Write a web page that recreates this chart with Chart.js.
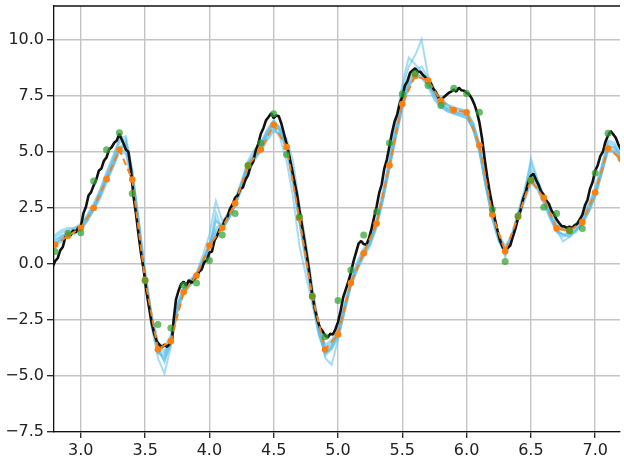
<!DOCTYPE html>
<html>
<head>
<meta charset="utf-8">
<script src="https://cdn.jsdelivr.net/npm/chart.js@4.4.1/dist/chart.umd.min.js"></script>
<style>
  html, body { margin: 0; padding: 0; background: #fff; overflow: hidden; }
  canvas { display: block; }
</style>
</head>
<body>
<canvas id="chart" width="624" height="461"></canvas>
<script>
// Axis ticks
const xTicks = [3.0, 3.5, 4.0, 4.5, 5.0, 5.5, 6.0, 6.5, 7.0];
const yTicks = [-7.5, -5.0, -2.5, 0.0, 2.5, 5.0, 7.5, 10.0];

// Grid of evaluation points shared by the estimate and the observations
const gridX = [2.7, 2.8, 2.9, 3.0, 3.1, 3.2, 3.3, 3.4, 3.5, 3.6,
               3.7, 3.8, 3.9, 4.0, 4.1, 4.2, 4.3, 4.4, 4.5, 4.6,
               4.7, 4.8, 4.9, 5.0, 5.1, 5.2, 5.3, 5.4, 5.5, 5.6,
               5.7, 5.8, 5.9, 6.0, 6.1, 6.2, 6.3, 6.4, 6.5, 6.6,
               6.7, 6.8, 6.9, 7.0, 7.1, 7.2, 7.3];

// Mean estimate (orange dashed line with markers)
const estimate = [0.5, 0.85, 1.25, 1.6, 2.49, 3.77, 5.09, 3.76, -0.71, -3.82,
                  -3.45, -1.26, -0.52, 0.82, 1.61, 2.69, 4.38, 5.1, 6.2, 5.21,
                  2.03, -1.45, -3.82, -3.15, -0.86, 0.47, 1.8, 4.39, 7.13, 8.39,
                  8.17, 7.28, 6.86, 6.76, 5.28, 2.2, 0.56, 2.1, 3.73, 2.94,
                  1.58, 1.48, 1.86, 3.18, 5.14, 4.7, 3.6];

// Noisy observations (green dots)
const observed = [null, 0.55, 1.36, 1.39, 3.7, 5.09, 5.85, 3.14, -0.75, -2.71,
                  -2.86, -0.96, -0.86, 0.15, 1.29, 2.25, 4.39, 5.39, 6.69, 4.88,
                  2.1, -1.45, -3.25, -1.64, -0.27, 1.29, 2.32, 5.39, 7.58, 8.49,
                  7.95, 7.06, 7.83, 7.6, 6.76, 2.42, 0.1, 2.13, 3.73, 2.52,
                  2.25, 1.48, 1.58, 4.05, 5.83, null, null];

// Underlying signal (black line), [x, y]
const signal = [
  [2.78,-0.15],[2.80,0.12],[2.82,0.25],[2.84,0.6],[2.86,0.75],[2.88,1.2],[2.90,1.35],[2.92,1.25],
  [2.94,1.5],[2.96,1.4],[2.98,1.62],[3.00,1.65],[3.02,2.25],[3.04,2.55],[3.06,3.05],[3.08,3.2],
  [3.10,3.5],[3.12,3.75],[3.14,4.15],[3.16,4.25],[3.18,4.6],[3.20,4.75],[3.22,5.1],[3.24,5.2],
  [3.26,5.4],[3.28,5.5],[3.30,5.8],[3.31,5.65],[3.33,5.4],[3.35,5.1],[3.37,5.0],[3.39,4.2],
  [3.41,3.0],[3.43,2.2],[3.45,1.25],[3.47,0.4],[3.49,-0.3],[3.51,-1.2],[3.53,-1.9],[3.55,-2.6],
  [3.57,-3.1],[3.59,-3.45],[3.61,-3.6],[3.63,-3.72],[3.65,-3.6],[3.67,-3.7],[3.69,-3.58],[3.71,-3.35],
  [3.72,-2.6],[3.74,-1.6],[3.76,-1.2],[3.78,-0.9],[3.80,-0.8],[3.82,-0.98],[3.84,-0.72],[3.86,-0.85],
  [3.88,-0.68],[3.90,-0.6],[3.92,-0.35],[3.94,-0.25],[3.96,0.08],[3.98,0.15],[4.00,0.5],[4.02,0.55],
  [4.04,1.05],[4.06,1.25],[4.08,1.55],[4.10,1.65],[4.12,1.95],[4.14,2.1],[4.16,2.45],[4.18,2.65],
  [4.20,2.95],[4.22,3.05],[4.24,3.35],[4.26,3.4],[4.28,3.75],[4.30,3.95],[4.32,4.35],[4.34,4.55],
  [4.36,5.05],[4.38,5.35],[4.40,5.8],[4.42,6.05],[4.44,6.4],[4.46,6.55],[4.48,6.72],[4.50,6.5],
  [4.52,6.62],[4.54,6.58],[4.56,6.25],[4.58,5.8],[4.60,5.35],[4.62,4.85],[4.64,4.3],[4.66,3.7],
  [4.68,3.15],[4.70,2.4],[4.72,1.7],[4.74,1.0],[4.76,0.3],[4.78,-0.5],[4.80,-1.4],[4.82,-2.0],
  [4.84,-2.5],[4.86,-2.85],[4.88,-3.0],[4.90,-3.2],[4.92,-3.28],[4.94,-3.12],[4.96,-3.15],[4.98,-2.92],
  [5.00,-2.6],[5.02,-2.1],[5.04,-1.5],[5.06,-1.15],[5.08,-0.8],[5.10,-0.4],[5.12,0.1],[5.14,0.5],
  [5.16,0.9],[5.18,1.02],[5.20,0.88],[5.22,0.85],[5.24,1.12],[5.26,1.55],[5.28,2.05],[5.30,2.55],
  [5.32,3.15],[5.34,3.55],[5.36,4.25],[5.38,4.65],[5.40,5.25],[5.42,5.85],[5.44,6.35],[5.46,6.65],
  [5.48,7.15],[5.50,7.45],[5.52,7.95],[5.54,8.15],[5.56,8.52],[5.58,8.62],[5.60,8.72],[5.62,8.58],
  [5.64,8.57],[5.66,8.42],[5.68,8.32],[5.70,8.18],[5.72,8.07],[5.74,7.82],[5.76,7.67],[5.78,7.42],
  [5.80,7.3],[5.82,7.42],[5.84,7.52],[5.86,7.62],[5.88,7.68],[5.90,7.77],[5.92,7.68],[5.94,7.86],
  [5.96,7.74],[5.98,7.72],[6.00,7.63],[6.02,7.56],[6.04,7.38],[6.06,7.12],[6.08,6.78],[6.10,6.3],
  [6.12,5.6],[6.14,4.7],[6.16,3.9],[6.18,3.2],[6.20,2.6],[6.22,2.0],[6.24,1.5],[6.26,1.05],
  [6.28,0.75],[6.30,0.6],[6.32,0.72],[6.34,0.82],[6.36,1.22],[6.38,1.58],[6.40,2.05],[6.42,2.4],
  [6.44,2.9],[6.46,3.2],[6.48,3.65],[6.50,3.92],[6.52,4.02],[6.54,3.75],[6.56,3.52],[6.58,3.22],
  [6.60,3.08],[6.62,2.82],[6.64,2.68],[6.66,2.38],[6.68,2.22],[6.70,1.98],[6.72,1.82],[6.74,1.68],
  [6.76,1.67],[6.78,1.6],[6.80,1.66],[6.82,1.58],[6.84,1.72],[6.86,1.78],[6.88,1.98],[6.90,2.18],
  [6.92,2.6],[6.94,2.85],[6.96,3.35],[6.98,3.65],[7.00,4.15],[7.02,4.4],[7.04,4.8],[7.06,5.0],
  [7.08,5.45],[7.10,5.72],[7.12,5.92],[7.14,5.78],[7.16,5.62],[7.18,5.33],[7.20,5.1],[7.22,4.8]
];

// x positions of the sampled curves (light blue)
const sampleX = [2.75,2.80,2.85,2.90,2.95,3.00,3.05,3.10,3.15,3.20,
                 3.25,3.30,3.35,3.40,3.45,3.50,3.55,3.60,3.65,3.70,
                 3.75,3.80,3.85,3.90,3.95,4.00,4.05,4.10,4.15,4.20,
                 4.25,4.30,4.35,4.40,4.45,4.50,4.55,4.60,4.65,4.70,
                 4.75,4.80,4.85,4.90,4.95,5.00,5.05,5.10,5.15,5.20,
                 5.25,5.30,5.35,5.40,5.45,5.50,5.55,5.60,5.65,5.70,
                 5.75,5.80,5.85,5.90,5.95,6.00,6.05,6.10,6.15,6.20,
                 6.25,6.30,6.35,6.40,6.45,6.50,6.55,6.60,6.65,6.70,
                 6.75,6.80,6.85,6.90,6.95,7.00,7.05,7.10,7.15,7.20,7.25];

const sample1 = [0.6,0.9,1.15,1.3,1.45,1.6,2.0,2.5,3.1,3.8,4.5,5.2,5.2,3.8,1.7,-0.6,-2.5,-3.8,-4.0,-3.4,-2.0,-1.2,-0.85,-0.5,0.1,0.8,1.3,1.6,2.1,2.7,3.5,4.4,4.8,5.2,5.8,6.2,5.9,5.2,3.8,2.0,0.3,-1.4,-2.9,-3.8,-3.6,-3.1,-2.0,-0.9,-0.1,0.5,1.0,1.8,3.0,4.4,5.8,7.1,8.0,8.4,8.4,8.1,7.6,7.25,7.0,6.85,6.8,6.7,6.2,5.2,3.6,2.2,1.2,0.6,1.1,2.1,3.0,3.8,3.5,2.9,2.2,1.6,1.5,1.45,1.6,1.9,2.5,3.2,4.2,5.2,5.1,4.7,4.2];
const sample2 = [0.8,1.0,1.3,1.2,1.5,1.7,2.1,2.6,3.0,3.9,4.6,5.4,5.5,4.0,1.9,-0.4,-2.3,-3.6,-3.9,-3.3,-1.8,-1.0,-0.8,-0.4,0.2,0.9,1.5,1.7,2.2,2.8,3.6,4.5,4.9,5.4,6.0,6.4,6.0,5.3,3.9,2.1,0.4,-1.3,-2.8,-3.7,-3.5,-3.0,-1.9,-0.8,0.0,0.6,1.1,1.9,3.1,4.6,6.2,7.8,8.8,9.3,10.0,8.4,7.8,7.4,7.1,6.9,6.9,6.8,6.3,5.4,3.8,2.4,1.3,0.7,1.2,2.2,3.2,4.2,3.6,3.0,2.3,1.7,1.6,1.5,1.7,2.0,2.6,3.3,4.3,5.4,5.3,4.8,4.3];
const sample3 = [0.9,1.2,1.4,1.5,1.6,1.7,2.2,2.7,3.3,4.1,4.8,5.6,5.7,4.2,2.0,-0.3,-2.2,-3.5,-3.7,-3.2,-1.9,-1.1,-0.7,-0.4,0.4,1.3,2.8,1.9,2.3,2.9,3.7,4.6,5.1,5.4,5.9,6.3,6.1,5.4,4.0,2.2,0.5,-1.2,-2.7,-3.6,-3.4,-2.9,-1.8,-0.7,0.1,0.7,1.2,2.0,3.3,4.7,6.4,8.0,9.2,8.9,8.6,8.2,7.7,7.3,7.1,7.0,6.9,6.8,6.3,5.3,3.7,2.3,1.3,0.8,1.3,2.3,3.3,4.5,3.7,3.1,2.4,1.8,1.6,1.6,1.8,2.1,2.7,3.4,4.4,5.5,5.4,4.9,4.4];
const sample4 = [0.5,0.8,1.0,1.2,1.4,1.5,1.9,2.4,3.0,3.7,4.3,5.0,5.1,3.7,1.5,-0.8,-2.8,-4.2,-4.9,-3.7,-2.2,-1.3,-0.9,-0.6,0.0,0.7,2.3,1.5,2.0,2.6,3.4,4.3,4.7,5.1,5.6,6.0,5.8,5.1,3.7,1.9,0.2,-1.5,-3.0,-4.1,-3.8,-3.2,-2.1,-1.0,-0.2,0.4,0.9,1.7,2.9,4.3,5.7,7.0,7.9,8.3,8.3,8.0,7.5,7.1,6.9,6.8,6.7,6.6,6.1,5.1,3.5,2.1,1.1,0.4,1.0,2.0,2.9,3.7,3.4,2.8,2.1,1.5,1.3,1.2,1.5,1.8,2.4,3.1,4.1,5.1,5.0,4.6,4.1];
const sample5 = [0.7,1.1,1.2,1.4,1.3,1.6,2.0,2.4,3.2,3.9,4.4,5.1,5.3,4.1,1.8,-0.5,-2.6,-3.9,-4.3,-3.6,-2.1,-1.2,-0.9,-0.5,0.2,0.8,1.9,1.7,2.1,2.6,3.4,4.2,4.6,5.0,5.5,5.9,5.8,5.6,4.6,2.6,1.0,-1.0,-2.7,-4.2,-4.5,-3.4,-2.2,-1.0,-0.3,0.3,0.8,1.6,2.8,4.2,5.6,6.9,7.9,8.5,8.5,8.2,7.4,7.0,6.8,6.7,6.6,6.5,6.1,5.0,3.4,2.0,1.0,0.5,1.0,1.9,2.8,3.6,3.3,2.7,2.0,1.4,1.2,1.3,1.4,1.8,2.3,3.0,4.0,5.0,5.0,4.6,4.1];
const sample6 = [1.0,1.3,1.5,1.6,1.6,1.8,2.1,2.6,3.3,4.0,4.7,5.5,5.6,3.9,1.6,-0.7,-2.6,-3.9,-4.2,-3.5,-2.0,-1.3,-1.0,-0.6,0.1,0.8,1.4,1.6,2.0,2.6,3.3,4.3,4.7,5.1,5.7,6.1,5.6,4.6,3.0,0.8,-0.5,-1.8,-3.1,-3.9,-3.7,-3.1,-2.0,-0.9,-0.1,0.5,1.0,1.8,3.0,4.4,5.9,7.2,8.2,8.6,8.8,8.3,7.7,7.2,6.9,6.7,6.7,6.6,6.0,5.0,3.5,2.1,1.1,0.5,1.1,2.1,3.0,3.9,3.6,2.9,2.1,1.5,1.3,1.4,1.5,1.9,2.4,3.2,4.2,5.2,5.2,4.8,4.3];
const sample7 = [0.6,0.9,1.1,1.3,1.5,1.6,2.0,2.5,3.1,3.8,4.5,5.2,5.4,4.1,1.9,-0.5,-2.4,-3.7,-4.4,-3.5,-2.0,-1.1,-0.8,-0.5,0.1,0.9,1.6,1.8,2.2,2.8,3.6,4.5,4.9,5.3,5.8,6.3,6.0,5.3,3.9,2.1,0.3,-1.4,-3.0,-4.0,-3.7,-3.1,-1.9,-0.8,-0.1,0.5,1.0,1.8,3.1,4.5,5.9,7.3,8.3,8.7,8.5,8.1,7.5,7.1,6.9,6.8,6.7,6.6,6.2,5.2,3.6,2.2,1.2,0.3,1.1,2.2,3.1,4.7,3.8,3.0,2.2,1.5,1.0,1.2,1.5,1.8,2.4,3.1,4.1,5.3,5.2,4.8,4.3];
const sample8 = [0.4,0.8,1.2,1.4,1.5,1.5,1.9,2.4,2.9,3.6,4.3,5.0,4.9,3.5,1.4,-0.9,-2.7,-4.0,-4.1,-3.3,-1.9,-1.2,-0.9,-0.5,0.0,0.7,2.0,1.5,2.0,2.7,3.5,4.4,4.8,5.2,5.9,6.4,5.9,5.1,3.6,1.8,0.1,-1.6,-3.2,-4.0,-3.8,-3.3,-2.1,-0.9,-0.2,0.4,0.9,1.7,2.9,4.3,5.7,7.0,8.1,8.5,8.3,7.9,7.3,7.0,6.8,6.7,6.6,6.5,6.0,5.0,3.4,2.0,1.0,0.6,1.2,2.2,3.1,4.0,3.5,2.8,2.1,1.5,1.3,1.3,1.5,1.8,2.3,3.0,4.0,5.1,5.0,4.5,4.0];
const samples = [sample1, sample2, sample3, sample4, sample5, sample6, sample7, sample8];

const pairUp = (xs, ys) => xs.map((x, i) => ({ x: x, y: ys[i] })).filter(p => p.y !== null && p.y !== undefined);
const fmt = v => v.toFixed(1).replace('-', '\u2212');

const labelFont = { family: 'DejaVu Sans', size: 16 };
const gridStyle = { color: '#c4c4c4', lineWidth: 1.4, tickColor: '#222', tickWidth: 1.3 };

// Top frame line of the axes box
const topFrame = {
  id: 'topFrame',
  afterDatasetsDraw(chart) {
    const { ctx, chartArea } = chart;
    ctx.save();
    ctx.strokeStyle = '#111';
    ctx.lineWidth = 1.3;
    ctx.beginPath();
    ctx.moveTo(chartArea.left, chartArea.top);
    ctx.lineTo(chartArea.right, chartArea.top);
    ctx.stroke();
    ctx.restore();
  }
};

const datasets = [];
samples.forEach(s => datasets.push({
  data: pairUp(sampleX, s),
  showLine: true,
  borderColor: 'rgba(90,192,235,0.55)',
  borderWidth: 2,
  pointRadius: 0,
  order: 3
}));
datasets.push({
  data: signal.map(p => ({ x: p[0], y: p[1] })),
  showLine: true,
  borderColor: '#111',
  borderWidth: 2.6,
  borderJoinStyle: 'bevel',
  pointRadius: 0,
  order: 2
});
datasets.push({
  data: pairUp(gridX, estimate),
  showLine: true,
  borderColor: '#ff7f0e',
  borderWidth: 2,
  borderDash: [7, 4],
  pointRadius: 3.3,
  pointBackgroundColor: '#ff7f0e',
  pointBorderWidth: 0,
  order: 1
});
datasets.push({
  data: pairUp(gridX, observed),
  showLine: false,
  pointRadius: 3.5,
  pointBackgroundColor: 'rgba(44,160,44,0.7)',
  pointBorderWidth: 0,
  order: 0
});

new Chart(document.getElementById('chart'), {
  type: 'scatter',
  data: { datasets: datasets },
  plugins: [topFrame],
  options: {
    responsive: false,
    animation: false,
    events: [],
    devicePixelRatio: 1,
    layout: { padding: { top: 6, left: 0, right: 0, bottom: 0 } },
    plugins: { legend: { display: false }, tooltip: { enabled: false } },
    elements: { line: { tension: 0 } },
    scales: {
      x: {
        type: 'linear',
        min: 2.7915,
        max: 7.193,
        afterBuildTicks: s => { s.ticks = xTicks.map(v => ({ value: v })); },
        afterFit: s => { s.height = 29; s.paddingLeft = 0; s.paddingRight = 0; },
        ticks: { callback: v => fmt(v), font: labelFont, color: '#222', padding: 3, autoSkip: false, maxRotation: 0 },
        grid: Object.assign({ tickLength: 6 }, gridStyle),
        border: { display: true, color: '#111', width: 1.3 }
      },
      y: {
        type: 'linear',
        min: -7.5,
        max: 11.5,
        afterBuildTicks: s => { s.ticks = yTicks.map(v => ({ value: v })); },
        afterFit: s => { s.width = 54; s.paddingTop = 0; s.paddingBottom = 0; },
        ticks: { callback: v => fmt(v), font: labelFont, color: '#222', padding: 3 },
        grid: Object.assign({ tickLength: 7 }, gridStyle),
        border: { display: true, color: '#111', width: 1.3 }
      }
    }
  }
});
</script>
</body>
</html>
